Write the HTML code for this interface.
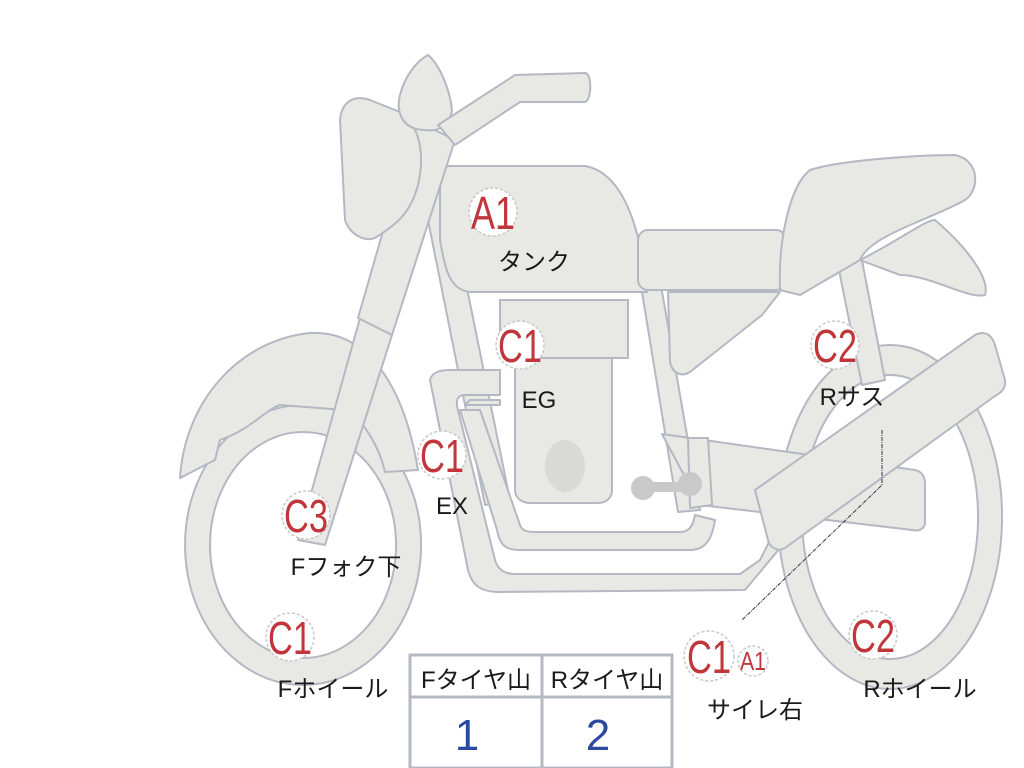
<!DOCTYPE html>
<html><head><meta charset="utf-8"><style>
html,body{margin:0;padding:0;background:#fff;width:1024px;height:768px;overflow:hidden}
svg{display:block}
text{font-family:"Liberation Sans","Noto Sans CJK JP",sans-serif}
.p{fill:#e8e9e5;stroke:#b3b8c2;stroke-width:2;stroke-linejoin:round}
.lb{fill:#1a1a1a;font-size:24px}
.cc{fill:#fff;stroke:#c8c8c8;stroke-width:1.5;stroke-dasharray:3 2}
.ct{fill:#c0363a;font-size:46px}
</style></head><body>
<svg width="1024" height="768" viewBox="0 0 1024 768">
<path class="p" fill-rule="evenodd" d="M890,345 a112,172 0 1,0 0.1,0 Z M890,375 a88,142 0 1,0 0.1,0 Z"/>
<path class="p" fill-rule="evenodd" d="M303,405 a118,140 0 1,0 0.1,0 Z M303,432 a93,113 0 1,0 0.1,0 Z"/>
<path class="p" d="M180,478 C185,400 240,340 310,333 C370,330 405,390 418,470 L385,472 C380,450 365,420 345,410 L280,405 C265,410 250,430 220,440 L215,460 Z"/>
<path class="p" d="M835,250 L860,250 L885,380 L862,385 Z"/>
<path class="p" d="M420,180 L445,180 L510,500 L485,505 Z"/>
<path class="p" d="M640,280 L660,280 L700,510 L678,512 Z"/>
<path class="p" d="M430,380 C432,372 440,370 450,370 L500,370 L500,395 L465,395 C458,395 455,400 458,410 L495,560 C498,570 505,574 515,574 L740,574 L760,560 L770,540 L780,548 L745,590 L500,592 C480,592 472,585 468,570 Z"/>
<path class="p" d="M465,405 L500,405 L500,400 L470,400 Z"/>
<path class="p" d="M460,410 L480,410 L520,525 C522,530 525,532 535,532 L680,532 C690,532 693,525 695,515 L715,520 C712,540 705,550 690,550 L520,550 C505,550 500,545 497,530 Z"/>
<path class="p" d="M515,355 L612,355 L612,490 C612,498 606,503 598,503 L530,503 C522,503 515,498 515,490 Z"/>
<ellipse cx="565" cy="466" rx="20" ry="26" fill="#d9dad7"/>
<rect class="p" x="500" y="300" width="128" height="58"/>
<path class="p" d="M662,434 L915,470 C922,472 925,476 925,484 L925,522 C925,528 920,532 912,530 L700,505 Z"/>
<path class="p" d="M688,438 L708,438 L712,505 L690,508 Z"/>
<circle cx="643" cy="488" r="12" fill="#c9c9c9"/><circle cx="690" cy="484" r="12" fill="#c9c9c9"/>
<rect x="643" y="482" width="48" height="10" fill="#c9c9c9"/>
<path class="p" d="M668,292 L780,292 L762,315 L690,372 C680,378 672,372 670,362 Z"/>
<path class="p" d="M440,166 L585,166 C620,172 640,220 647,292 L470,292 C450,290 445,270 440,240 Z"/>
<rect class="p" x="638" y="230" width="148" height="60" rx="10"/>
<path class="p" d="M780,290 C778,240 790,185 810,170 C840,160 920,155 955,155 C980,160 980,190 965,200 C930,220 870,235 860,260 L800,295 Z"/>
<path class="p" d="M860,260 C900,240 925,220 935,220 C970,250 990,280 985,295 C970,300 930,275 900,275 Z"/>
<path class="p" d="M360,318 L392,335 L325,545 L298,540 Z"/>
<path class="p" d="M415,120 L455,140 L392,335 L358,318 Z"/>
<path class="p" d="M340,120 C342,100 355,95 370,100 L400,112 C420,125 425,155 418,185 C410,215 395,225 375,238 C365,242 350,235 345,220 Z"/>
<path class="p" d="M428,55 C440,65 450,90 452,110 C450,125 440,132 425,130 C405,130 395,115 400,95 C405,75 418,60 428,55 Z"/>
<path class="p" d="M438,125 L515,75 L585,73 C592,73 592,100 585,102 L520,102 L455,145 Z"/>
<path class="p" d="M755,490 L975,335 C985,330 992,335 995,345 L1005,380 C1006,388 1002,392 995,396 L785,548 C778,552 770,548 768,540 Z"/>
<path d="M882,430 L882,485 L742,620" fill="none" stroke="#333" stroke-width="1" stroke-dasharray="4 1 1 1"/>
<rect x="410" y="655" width="262" height="113" fill="#fff" stroke="#b3b8c2" stroke-width="3"/>
<line x1="410" y1="697" x2="672" y2="697" stroke="#b3b8c2" stroke-width="3"/>
<line x1="542" y1="655" x2="542" y2="768" stroke="#b3b8c2" stroke-width="3"/>
<text class="lb" x="476" y="688" text-anchor="middle">Fタイヤ山</text>
<text class="lb" x="607" y="688" text-anchor="middle">Rタイヤ山</text>
<text x="467" y="750" text-anchor="middle" font-size="44" fill="#2a4aa0">1</text>
<text x="598" y="750" text-anchor="middle" font-size="44" fill="#2a4aa0">2</text>
<g>
<circle class="cc" cx="493" cy="212" r="24"/><text class="ct" x="471" y="229" textLength="44" lengthAdjust="spacingAndGlyphs">A1</text>
<circle class="cc" cx="520" cy="345" r="24"/><text class="ct" x="498" y="362" textLength="44" lengthAdjust="spacingAndGlyphs">C1</text>
<circle class="cc" cx="442" cy="455" r="24"/><text class="ct" x="420" y="472" textLength="44" lengthAdjust="spacingAndGlyphs">C1</text>
<circle class="cc" cx="306" cy="515" r="24"/><text class="ct" x="284" y="532" textLength="44" lengthAdjust="spacingAndGlyphs">C3</text>
<circle class="cc" cx="290" cy="637" r="24"/><text class="ct" x="268" y="654" textLength="44" lengthAdjust="spacingAndGlyphs">C1</text>
<circle class="cc" cx="835" cy="345" r="24"/><text class="ct" x="813" y="362" textLength="44" lengthAdjust="spacingAndGlyphs">C2</text>
<circle class="cc" cx="873" cy="635" r="24"/><text class="ct" x="851" y="652" textLength="44" lengthAdjust="spacingAndGlyphs">C2</text>
<circle class="cc" cx="709" cy="656" r="25"/><text class="ct" x="687" y="673" textLength="44" lengthAdjust="spacingAndGlyphs">C1</text>
<circle class="cc" cx="753" cy="661" r="15"/><text x="740" y="670" font-size="26" fill="#c0363a" textLength="26" lengthAdjust="spacingAndGlyphs">A1</text>
</g>
<text class="lb" x="534" y="270" text-anchor="middle">タンク</text>
<text class="lb" x="539" y="408" text-anchor="middle">EG</text>
<text class="lb" x="452" y="514" text-anchor="middle">EX</text>
<text class="lb" x="346" y="575" text-anchor="middle">Fフォク下</text>
<text class="lb" x="333" y="697" text-anchor="middle">Fホイール</text>
<text class="lb" x="852" y="405" text-anchor="middle">Rサス</text>
<text class="lb" x="920" y="697" text-anchor="middle">Rホイール</text>
<text class="lb" x="755" y="718" text-anchor="middle">サイレ右</text>
</svg>
</body></html>
